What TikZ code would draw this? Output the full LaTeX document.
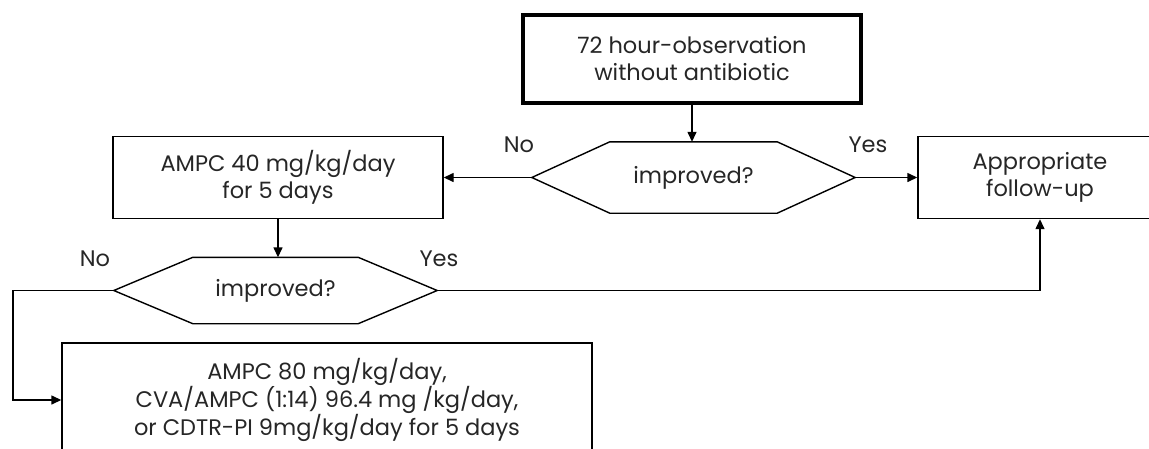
\documentclass[tikz,border=0pt]{standalone}
\usepackage{fontspec}
\setmainfont{Poppins}
\usetikzlibrary{arrows.meta}
\begin{document}
\begin{tikzpicture}[x=1pt,y=-1pt,
  every node/.style={font=\fontsize{22.5}{27}\selectfont, text=black!85, align=center},
  box/.style={draw, line width=1.4pt, inner sep=0pt},
  thickbox/.style={draw, line width=3.2pt, inner sep=0pt},
  hexnode/.style={inner sep=0pt, minimum width=323pt},
  hexline/.style={line width=1.4pt},
  lbl/.style={inner sep=0pt},
  arr/.style={line width=1.4pt, -{Triangle[length=10pt,width=9pt]}},
  conn/.style={line width=1.4pt}]
\useasboundingbox (0,0) rectangle (1149,448);
% nodes
\node[thickbox, minimum width=338pt, minimum height=88pt] (top) at (692,59) {72 hour-observation\\without antibiotic};
\node[hexnode, minimum height=71pt] (h1) at (693.5,177.5) {improved?};
\node[box, minimum width=330pt, minimum height=82pt] (left) at (278,177.5) {AMPC 40 mg/kg/day\\for 5 days};
\node[box, minimum width=244pt, minimum height=82pt] (right) at (1040,177.5) {Appropriate\\follow-up};
\node[hexnode, minimum height=66pt] (h2) at (275.5,290.5) {improved?};
\node[box, minimum width=530pt, minimum height=114pt] (bot) at (327,400) {AMPC 80 mg/kg/day,\\CVA/AMPC (1:14) 96.4 mg /kg/day,\\or CDTR-PI 9mg/kg/day for 5 days};
% hexagon outlines
\draw[hexline] (h1.west) -- ([xshift=78pt]h1.north west) -- ([xshift=-78pt]h1.north east) -- (h1.east) -- ([xshift=-78pt]h1.south east) -- ([xshift=78pt]h1.south west) -- cycle;
\draw[hexline] (h2.west) -- ([xshift=79pt]h2.north west) -- ([xshift=-79pt]h2.north east) -- (h2.east) -- ([xshift=-79pt]h2.south east) -- ([xshift=79pt]h2.south west) -- cycle;
% labels
\node[lbl] (no1) at (519,145) {No};
\node[lbl] (yes1) at (868,145) {Yes};
\node[lbl] (no2) at (95,259) {No};
\node[lbl] (yes2) at (439,259) {Yes};
% connectors
\coordinate (c1) at (13,290.5);
\draw[arr] (top.south) -- (top.south |- h1.north);
\draw[arr] (h1.west) -- (left.east);
\draw[arr] (h1.east) -- (right.west);
\draw[arr] (left.south) -- (left.south |- h2.north);
\draw[arr] (h2.west) -- (c1) |- (bot.west);
\draw[arr] (h2.east) -| (right.south);
\end{tikzpicture}
\end{document}
